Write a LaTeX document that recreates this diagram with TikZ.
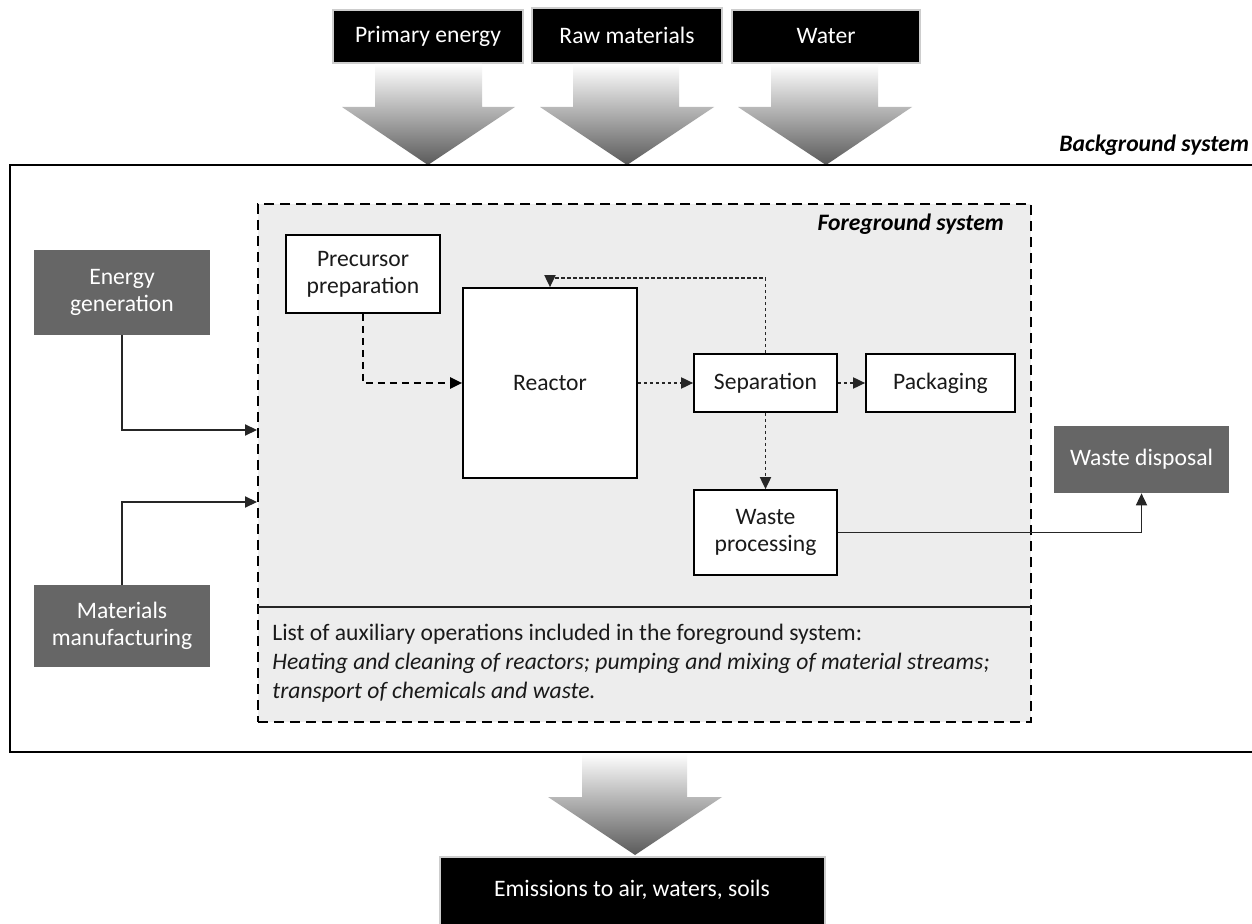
\documentclass[tikz,border=0pt]{standalone}
\usepackage{fontspec}
\setmainfont{Carlito}
\usetikzlibrary{fit,arrows.meta}
\definecolor{dgray}{HTML}{666666}
\definecolor{fggray}{HTML}{EDEDED}
\definecolor{txt}{HTML}{1A1A1A}
\definecolor{shadedark}{HTML}{5A5A5A}
\tikzset{
  fs/.style={font=\fontsize{11.8}{13.4}\selectfont},
  whitebox/.style={fs, draw=black, line width=0.9pt, fill=white, text=txt, inner sep=0pt, align=center},
  graybox/.style={fs, fill=dgray, text=white, inner sep=0pt, align=center},
  blackbox/.style={fs, fill=black, draw={rgb,255:red,205;green,205;blue,205}, line width=0.6pt, text=white, inner sep=0pt, align=center},
  tip/.style={-{Triangle[length=6pt,width=5.6pt]}},
  conn/.style={tip, line width=0.6pt, draw=black!85},
  dotconn/.style={tip, line width=0.65pt, draw=black!85, dash pattern=on 1.6pt off 1.4pt},
  dashconn/.style={tip, line width=0.9pt, draw=black, dash pattern=on 3.5pt off 2.5pt},
  bigarrow/.style={top color=white, bottom color=shadedark, draw=none},
}
\begin{document}
\begin{tikzpicture}[x=0.5pt,y=-0.5pt]
\useasboundingbox (0,0) rectangle (1252,924);
\fill[white] (0,0) rectangle (1252,924);

% top input boxes
\node[blackbox, fit={(333,10) (523,63)}] (pe) {};
\node[fs, text=white] at (pe.center) {Primary energy};
\node[blackbox, fit={(532,8) (722,63)}] (rm) {};
\node[fs, text=white] at (rm.center) {Raw materials};
\node[blackbox, fit={(732,10) (920,63)}] (wa) {};
\node[fs, text=white] at (wa.center) {Water};

% big shaded arrows
\shade[bigarrow] (375,64) -- (482,64) -- (482,107) -- (515,107) -- (428,165) -- (342,107) -- (375,107) -- cycle;
\shade[bigarrow] (573,64) -- (679,64) -- (679,107) -- (714,107) -- (627,165) -- (540,107) -- (573,107) -- cycle;
\shade[bigarrow] (771,64) -- (878,64) -- (878,107) -- (912,107) -- (826,165) -- (738,107) -- (771,107) -- cycle;

% background system
\draw[line width=1.4pt] (1270,165) -- (10,165) -- (10,752) -- (1270,752);
\node[fs, font=\fontsize{11.8}{13.4}\selectfont\bfseries\itshape, anchor=east, text=black] (bgl) at (1256,145) {Background system};

% foreground system
\node[fill=fggray, draw=black, line width=1.3pt, dash pattern=on 5pt off 3pt, inner sep=0pt, fit={(258,204) (1031,722)}] (fg) {};
\node[fs, font=\fontsize{11.8}{13.4}\selectfont\bfseries\itshape, anchor=east, text=black] (fgl) at (1011,224) {Foreground system};
\coordinate (sepl) at (258,607);
\coordinate (sepr) at (1031,607);
\draw[line width=0.6pt, black!85] (sepl) -- (sepr);
\node[fs, anchor=north west, align=left, text=txt, inner sep=0pt] (aux) at (272,624)
 {List of auxiliary operations included in the foreground system:\\[1pt]
  \itshape Heating and cleaning of reactors; pumping and mixing of material streams;\\[1pt]
  \itshape transport of chemicals and waste.};

% process boxes
\node[whitebox, fit={(286,235) (440,313)}] (pp) {};
\node[fs, text=txt, align=center] at (pp.center) {Precursor\\preparation};
\node[whitebox, fit={(463,288) (637,478)}] (re) {};
\node[fs, text=txt] at (re.center) {Reactor};
\node[whitebox, fit={(694,354) (837,412)}] (sep) {};
\node[fs, text=txt] at (sep.center) {Separation};
\node[whitebox, fit={(866,354) (1015,412)}] (pk) {};
\node[fs, text=txt] at (pk.center) {Packaging};
\node[whitebox, fit={(694,490) (837,575)}] (wp) {};
\node[fs, text=txt, align=center] at (wp.center) {Waste\\processing};

% gray boxes
\node[graybox, fit={(34,250) (210,335)}] (eg) {};
\node[fs, text=white, align=center] at (eg.center) {Energy\\generation};
\node[graybox, fit={(34,585) (210,667)}] (mm) {};
\node[fs, text=white, align=center] at (mm.center) {Materials\\manufacturing};
\node[graybox, fit={(1054,426) (1229,493)}] (wd) {};
\node[fs, text=white] at (wd.center) {Waste disposal};

% emissions
\shade[bigarrow] (582,753) -- (687,753) -- (687,797) -- (722,797) -- (635,855) -- (548,797) -- (582,797) -- cycle;
\node[blackbox, fit={(440,857) (825,930)}] (em) {};
\node[fs, text=white] at (632,890) {Emissions to air, waters, soils};

% connectors
\coordinate (egin) at (257,430);
\coordinate (mmin) at (257,502);
\draw[conn] (eg.south) |- (egin);
\draw[conn] (mm.north) |- (mmin);
\draw[dashconn] (pp.south) |- (re.west);
\draw[dotconn] (re.east) -- (sep.west);
\draw[dotconn] (sep.east) -- (pk.west);
\draw[dotconn] (sep.south) -- (wp.north);
\coordinate (fbl) at (550,278);
\draw[dotconn] (sep.north) |- (fbl) -- (re.north);
\draw[conn] (wp.east) -| (wd.south);
\end{tikzpicture}
\end{document}
